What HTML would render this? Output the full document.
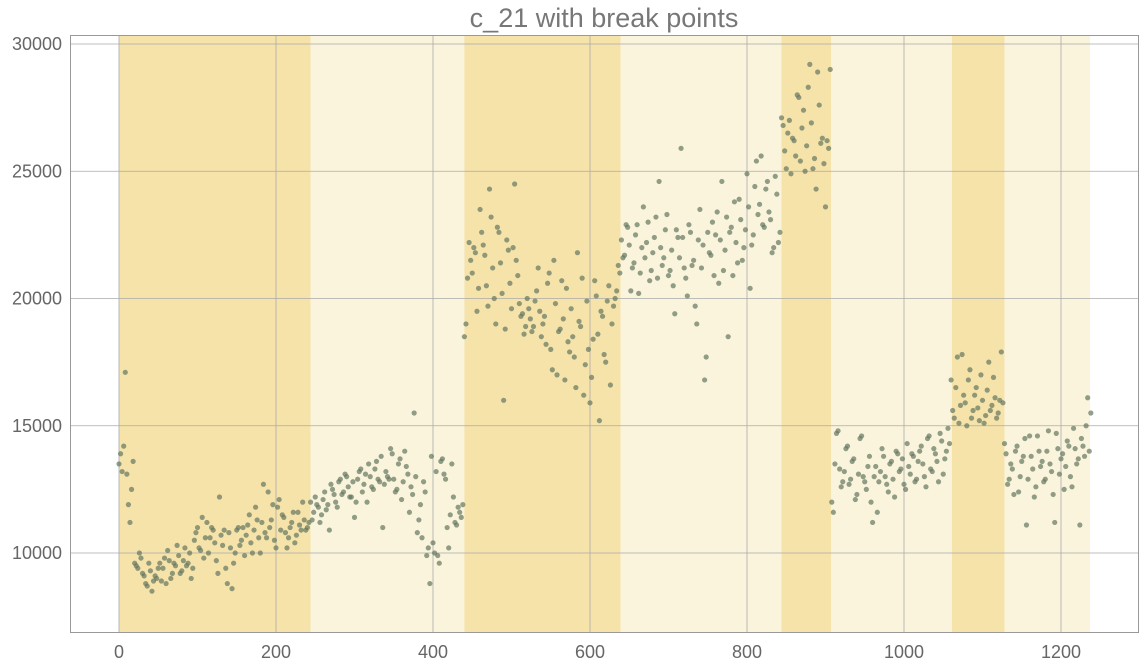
<!DOCTYPE html>
<html><head><meta charset="utf-8"><style>
body{margin:0;background:#fff;}
svg{display:block;font-family:"Liberation Sans",sans-serif;}
</style></head><body>
<svg id="chart" width="1144" height="667" viewBox="0 0 1144 667">
<text x="604" y="27" text-anchor="middle" font-size="27" fill="#777">c_21 with break points</text>
<g id="bands"></g><g id="grid"></g><g id="pts"></g><g id="ticks"></g>
<rect x="70.5" y="35.5" width="1068" height="597" fill="none" stroke="#999"/>
</svg>
<script>
const breaks=[0,244,440,639,844,907,1061,1128,1237];
const xTicks=[0,200,400,600,800,1000,1200];
const yTicks=[10000,15000,20000,25000,30000];
const step=4;
const seg1=[13.5,13.2,17.1,11.9,12.5,9.6,9.4,9.8,9.1,8.7,9.3,8.9,9.0,9.6,9.4,8.8,9.7,9.2,9.5,9.9,9.3,10.2,9.6,9.0,10.5,11.0,10.1,9.8,11.2,10.6,10.9,9.7,12.2,10.3,9.4,10.8,8.6,10.0,11.0,10.5,9.9,11.1,10.4,10.9,11.3,10.0,12.7,10.6,11.0,11.9,10.2,12.1,11.5,10.8,10.6,11.2,10.4,11.6,10.9,11.3,11.0];
const seg2=[12.0,11.6,11.9,11.2,12.1,11.7,10.9,12.5,12.0,12.8,12.3,13.1,12.6,12.2,11.4,12.9,13.3,12.7,12.0,13.0,12.5,13.6,12.8,11.0,13.2,12.9,13.9,12.4,13.5,12.1,14.0,13.1,12.6,15.5,10.8,11.9,12.8,9.9,8.8,10.4,13.2,9.6,13.7,12.9,10.2,13.5,11.2,11.8,11.4];
const seg3=[18.5,20.8,21.5,22.0,19.5,23.5,22.1,20.5,24.3,21.2,19.0,22.6,20.2,18.8,21.9,19.6,24.5,20.9,19.3,18.6,20.0,19.2,18.9,20.3,19.5,19.0,18.2,21.0,17.2,19.8,18.7,20.7,16.8,18.3,19.6,17.7,21.8,18.9,16.2,19.9,15.9,18.4,20.1,15.2,19.3,17.5,20.5,19.0,20.0,21.3];
const seg4=[22.3,21.7,22.8,20.3,21.4,22.9,21.0,23.6,22.2,20.7,21.8,23.2,24.6,21.3,22.7,20.9,21.9,19.4,22.4,25.9,21.2,20.1,22.6,21.5,19.0,23.5,22.1,17.7,21.8,23.0,22.5,20.6,24.6,21.9,18.5,22.8,23.8,21.4,23.1,22.0,24.9,20.4,22.5,25.4,23.7,22.9,24.3,23.4,21.8,24.8,22.2];
const seg5=[27.1,25.8,26.5,24.9,26.2,28.0,25.4,27.4,26.0,29.2,25.1,24.3,27.6,26.3,23.6,25.9];
const seg6=[12.0,13.5,14.8,12.6,13.2,14.2,12.9,13.7,12.3,14.5,13.0,12.5,13.8,11.2,13.4,12.8,14.1,13.0,12.4,13.6,12.2,13.9,13.3,12.7,14.3,13.1,13.8,12.9,14.0,13.5,12.6,14.6,13.2,13.9,12.8,14.4,13.7,14.9];
const seg7=[16.8,15.3,17.7,15.8,16.2,15.0,17.2,15.6,16.5,15.2,16.0,15.4,17.5,15.8,16.1,15.5,17.9];
const seg8=[14.3,12.7,13.5,12.3,14.2,13.0,13.8,11.1,14.6,13.3,12.6,14.0,13.6,12.9,14.8,13.2,11.2,14.1,13.7,12.5,14.4,13.0,14.9,13.5,11.1,14.2,15.0,14.0];
const segB1=[13.9,14.2,13.1,11.2,13.6,9.5,10.0,9.2,8.8,9.6,8.5,9.1,9.4,8.9,9.8,10.1,9.0,9.6,10.3,9.2,9.7,9.5,10.0,9.4,10.8,10.2,11.4,10.6,10.0,11.0,10.4,9.2,10.7,10.9,8.8,10.2,9.6,10.9,10.3,11.0,10.7,11.5,10.0,11.8,10.6,11.2,10.8,12.4,11.3,10.5,11.8,10.9,11.4,10.2,11.0,11.6,10.7,11.1,12.0,10.9,11.2];
const segB2=[11.3,12.2,11.8,11.5,12.4,11.9,12.7,12.3,11.8,12.9,12.4,13.0,12.2,12.8,12.0,13.2,12.4,13.1,13.5,12.6,13.3,12.9,13.8,12.7,13.0,14.1,12.9,12.5,13.7,12.8,13.4,11.6,12.3,13.0,11.3,10.6,12.4,10.2,13.8,10.0,9.9,13.6,13.1,11.0,11.5,12.2,11.1,11.6,11.9];
const segB3=[19.0,22.2,21.0,21.8,20.4,22.6,21.7,19.7,23.2,20.0,22.8,21.4,16.0,22.3,20.6,22.0,21.5,19.8,19.4,18.9,19.6,18.7,19.9,21.2,18.5,19.3,20.6,18.0,21.5,17.0,18.8,19.2,20.4,17.9,18.5,16.5,19.1,20.8,17.4,18.0,16.9,20.7,18.6,19.5,17.8,19.9,16.6,19.7,20.3,21.0];
const segB4=[21.6,22.9,22.1,21.2,22.5,20.2,22.0,21.6,23.0,21.1,22.4,20.8,22.0,21.6,23.3,21.1,20.5,22.7,21.6,22.4,20.8,22.9,21.3,19.7,22.3,21.2,16.8,22.6,21.7,20.9,23.4,22.3,21.1,23.2,22.6,20.9,22.2,23.9,21.5,22.7,23.6,22.1,24.4,23.3,25.6,22.8,24.6,23.1,22.0,24.1,22.6];
const segB5=[26.8,25.1,27.0,26.3,25.6,27.9,26.7,25.0,28.3,26.9,25.5,28.9,26.1,25.3,26.2,29.0];
const segB6=[11.6,14.7,13.3,12.8,14.1,12.7,13.6,12.1,13.1,14.6,12.8,13.4,12.0,13.0,11.6,13.2,13.8,12.7,13.5,12.9,14.0,13.2,13.7,12.5,13.4,13.9,12.8,13.6,14.2,13.0,14.5,13.3,14.1,13.6,14.7,13.1,14.0,14.3];
const segB7=[15.6,16.5,15.1,17.8,15.9,16.8,15.3,16.2,15.7,17.0,15.1,16.4,15.6,16.9,15.3,16.0,15.9];
const segB8=[13.9,12.9,13.3,14.0,12.4,13.6,14.5,12.9,13.8,12.2,14.6,13.4,12.8,14.0,13.5,12.3,14.7,13.1,13.9,13.4,14.2,12.6,14.1,13.7,14.5,13.8,16.1,15.5];
const values=[].concat(seg1,seg2,seg3,seg4,seg5,seg6,seg7,seg8);
const valuesB=[].concat(segB1,segB2,segB3,segB4,segB5,segB6,segB7,segB8);
const X=v=>119+v*0.785;
const Y=v=>553-(v-10000)*0.02545;
const NS='http://www.w3.org/2000/svg';
function mk(t,a,p){const e=document.createElementNS(NS,t);for(const k in a)e.setAttribute(k,a[k]);p.appendChild(e);return e;}
const bands=document.getElementById('bands');
for(let i=0;i<breaks.length-1;i++){
 const r=mk('rect',{x:X(breaks[i]),y:35,width:X(breaks[i+1])-X(breaks[i]),height:597,fill:i%2?'#fbf4dc':'#f6e3aa'},bands);
 
 
}
const grid=document.getElementById('grid'),ticks=document.getElementById('ticks');
xTicks.forEach(t=>{
 const l=mk('line',{x1:X(t),x2:X(t),y1:35,y2:632,stroke:'#aaa','stroke-width':0.8},grid);
 
 
 const s=mk('text',{x:X(t),y:658,'text-anchor':'middle','font-size':18,fill:'#666'},ticks);
 s.textContent=t;
 
 
});
yTicks.forEach(t=>{
 const l=mk('line',{x1:70,x2:1138,y1:Y(t),y2:Y(t),stroke:'#aaa','stroke-width':0.8},grid);
 
 
 const s=mk('text',{x:62,y:Y(t)+6,'text-anchor':'end','font-size':18,fill:'#666'},ticks);
 s.textContent=t;
 
 
});
const pts=document.getElementById('pts');
values.forEach((v,i)=>{
 const c=mk('circle',{cx:X(i*step),cy:Y(v*1000),r:2.6,fill:'rgba(100,118,95,0.7)'},pts);
 
 
});
valuesB.forEach((v,i)=>{
 const c=mk('circle',{cx:X(i*step+2),cy:Y(v*1000),r:2.6,fill:'rgba(100,118,95,0.7)'},pts);
 
 
});
</script>
</body></html>
